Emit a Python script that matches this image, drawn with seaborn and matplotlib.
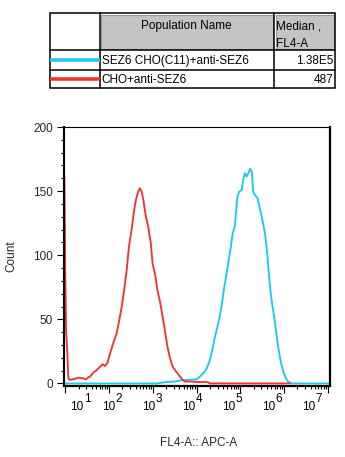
import numpy as np
import pandas as pd
import matplotlib
matplotlib.use("Agg")
import matplotlib.pyplot as plt
from matplotlib.patches import Rectangle
from matplotlib.ticker import LogLocator, NullFormatter, MultipleLocator, FixedLocator
import seaborn as sns

# ---- data -----------------------------------------------------------------
populations = ["SEZ6 CHO(C11)+anti-SEZ6", "CHO+anti-SEZ6"]
medians = ["1.38E5", "487"]
line_colors = ["#1ec8f0", "#f23333"]

# SEZ6 CHO(C11)+anti-SEZ6 histogram: log10(FL4-A) and event count
sez6_log = [0.975, 3.10, 3.27, 3.50, 3.69, 3.77, 4.00, 4.07, 4.15, 4.23, 4.30,
            4.355, 4.40, 4.455, 4.51, 4.57, 4.62, 4.67, 4.72, 4.78, 4.82, 4.87,
            4.93, 4.97, 5.03, 5.06, 5.10, 5.14, 5.18, 5.22, 5.26, 5.29, 5.33,
            5.39, 5.45, 5.50, 5.56, 5.61, 5.66, 5.71, 5.77, 5.81, 5.86, 5.92,
            5.98, 6.04, 6.09, 6.17, 7.05]
sez6_count = [0, 0, 1, 1.5, 2.7, 2.7, 3.3, 5.3, 7.9, 11.8, 18.3,
              26, 33.9, 41.7, 49.5, 61, 73, 83.3, 93.7, 106.7, 117, 122.3,
              145.7, 149.6, 150.9, 158.7, 164, 161.3, 164, 167.5, 165, 149.6, 147,
              144.4, 135.3, 127.5, 117, 101.5, 80.7, 65, 52, 41.7, 28.7, 17,
              9, 4, 1.4, 0, 0]

# CHO+anti-SEZ6 histogram: log10(FL4-A) and event count
cho_log = [0.975, 0.995, 1.015, 1.04, 1.065, 1.10, 1.20, 1.30, 1.40, 1.47,
           1.53, 1.56, 1.635, 1.70, 1.79, 1.85, 1.90, 1.955, 2.02, 2.09, 2.17,
           2.23, 2.285, 2.34, 2.40, 2.45, 2.51, 2.57, 2.61, 2.66, 2.70, 2.74,
           2.78, 2.83, 2.89, 2.95, 2.99, 3.05, 3.10, 3.16, 3.22, 3.27, 3.33,
           3.39, 3.45, 3.53, 3.62, 3.68, 3.73, 3.80, 4.00, 4.25, 4.30, 6.13]
cho_count = [162, 86, 40, 25, 4, 2.7, 3.5, 4.5, 4.0, 3.2,
             5.0, 5.3, 8.4, 10, 13, 15, 13.5, 15.7, 23.5, 31.3, 39.1,
             49.5, 59.9, 72.9, 88.5, 106.7, 119.7, 135.3, 143.1, 149.6, 152.2, 149.6,
             143.1, 131.4, 122.3, 109.3, 93.7, 84.6, 72.9, 63.8, 52.1, 41.7, 28.7,
             19.6, 13, 9.2, 5.3, 2.7, 1.4, 1.5, 1.2, 1.0, 0, 0]

decade_exponents = [1, 2, 3, 4, 5, 6, 7]
y_major = [0, 50, 100, 150, 200]

# ---- style ----------------------------------------------------------------
sns.set_theme(style="ticks")
plt.rcParams["font.family"] = ["Liberation Sans", "DejaVu Sans"]
plt.rcParams["text.color"] = "black"
FS = 8.5

W, H = 345, 457
fig = plt.figure(figsize=(W / 100, H / 100), dpi=100)
fig.patch.set_facecolor("white")

# main histogram axes (pixel box 64..330 x 127..386)
ax_l, ax_r, ax_t, ax_b = 64, 330, 127, 386
ax = fig.add_axes([ax_l / W, 1 - ax_b / H, (ax_r - ax_l) / W, (ax_b - ax_t) / H])
ax.set_facecolor("white")

df = pd.concat([
    pd.DataFrame({"FL4-A": np.power(10.0, sez6_log), "Count": sez6_count,
                  "Population": populations[0]}),
    pd.DataFrame({"FL4-A": np.power(10.0, cho_log), "Count": cho_count,
                  "Population": populations[1]}),
], ignore_index=True)

sns.lineplot(data=df, x="FL4-A", y="Count", hue="Population",
             hue_order=populations, palette=line_colors, estimator=None,
             sort=True, linewidth=1.35, legend=False, ax=ax)

ax.set_xscale("log")
ax.set_xlim(10 ** 0.966, 10 ** 7.046)
ax.set_ylim(-2, 200)

ax.xaxis.set_major_locator(FixedLocator([10.0 ** e for e in decade_exponents]))
ax.xaxis.set_minor_locator(LogLocator(base=10, subs=np.arange(2, 10)))
ax.xaxis.set_major_formatter(NullFormatter())
ax.xaxis.set_minor_formatter(NullFormatter())
ax.yaxis.set_major_locator(FixedLocator(y_major))
ax.yaxis.set_minor_locator(MultipleLocator(10))
ax.set_yticklabels([str(v) for v in y_major])

ax.tick_params(axis="both", which="major", direction="out", length=5,
               width=0.8, color="black", labelsize=FS, pad=3)
ax.tick_params(axis="both", which="minor", direction="out", length=2.5,
               width=0.8, color="black")

for side, lw in {"left": 1.5, "bottom": 1.6, "right": 1.6, "top": 0.8}.items():
    ax.spines[side].set_visible(True)
    ax.spines[side].set_color("black")
    ax.spines[side].set_linewidth(lw)

ax.set_xlabel("FL4-A:: APC-A", fontsize=FS)
ax.set_ylabel("Count", fontsize=FS)
ax.xaxis.label.set_va("center")
ax.yaxis.label.set_va("center")
ax.xaxis.set_label_coords((199 - ax_l) / (ax_r - ax_l), -(443 - ax_b) / (ax_b - ax_t))
ax.yaxis.set_label_coords(-(ax_l - 11) / (ax_r - ax_l), 0.5)

# ---- overlay in pixel coordinates: decade labels and population table -----
ov = fig.add_axes([0, 0, 1, 1], zorder=5)
ov.set_xlim(0, W)
ov.set_ylim(H, 0)
ov.axis("off")
ov.patch.set_alpha(0)

# decade labels "10" with raised exponent
label_right = [83.3, 115, 155, 195, 235, 275, 315]
for e, xr in zip(decade_exponents, label_right):
    ov.text(xr, 407, "10", ha="right", va="center", fontsize=FS)
    ov.text(xr + 0.3, 399, str(e), ha="left", va="center", fontsize=FS)

# table frame
tx0, tx1, ty0, ty1 = 50, 335, 13, 88
c1, c2 = 99.5, 274
r1, r2 = 50, 70
ov.add_patch(Rectangle((c1 + 1.5, ty0 + 1.5), c2 - c1 - 3, r1 - ty0 - 3,
                       facecolor="#c4c4c4", edgecolor="#9a9a9a", lw=0.8))
ov.add_patch(Rectangle((c2 + 1.5, ty0 + 1.5), tx1 - c2 - 3, r1 - ty0 - 3,
                       facecolor="#c4c4c4", edgecolor="#9a9a9a", lw=0.8))
ov.add_patch(Rectangle((tx0, ty0), tx1 - tx0, ty1 - ty0, facecolor="none",
                       edgecolor="black", lw=1.1))
for xv in (c1, c2):
    ov.plot([xv, xv], [ty0, ty1], color="black", lw=1.1)
for yv in (r1, r2):
    ov.plot([tx0, tx1], [yv, yv], color="black", lw=1.1)

ov.text((c1 + c2) / 2, 26.5, "Population Name", ha="center", va="center", fontsize=FS)
ov.text(c2 + 2, 26.5, "Median ,", ha="left", va="center", fontsize=FS)
ov.text(c2 + 2, 44, "FL4-A", ha="left", va="center", fontsize=FS)

row_y = [60, 79]
for name, med, col, yv in zip(populations, medians, line_colors, row_y):
    ov.plot([tx0, c1], [yv, yv], color=col, lw=2.6, solid_capstyle="butt")
    ov.text(c1 + 2, yv + 1, name, ha="left", va="center", fontsize=FS)
    ov.text(tx1 - 2, yv + 1, med, ha="right", va="center", fontsize=FS)

fig.savefig("out.png", dpi=100, facecolor="white")
